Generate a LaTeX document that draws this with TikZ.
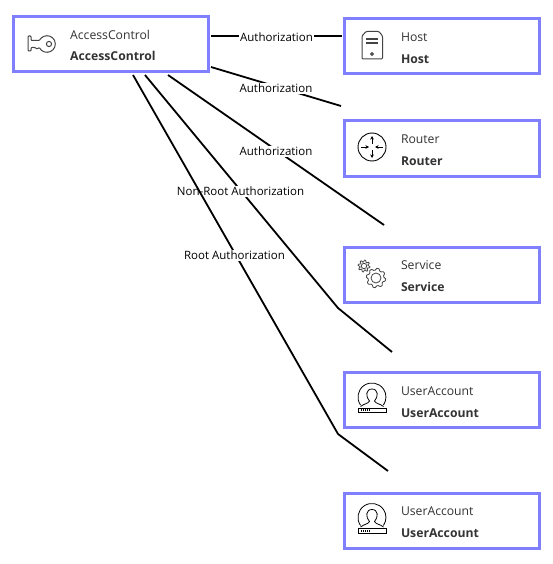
\documentclass[tikz,border=0pt]{standalone}
\usepackage{fontspec}
\setmainfont{Open Sans}
\usetikzlibrary{arrows.meta}
\definecolor{cardblue}{HTML}{8080FF}
\definecolor{cardtext}{HTML}{333333}
\definecolor{icongray}{HTML}{444444}
\tikzset{
  card/.style={draw=cardblue,line width=3pt,fill=white,minimum width=194.6pt,minimum height=55pt,inner sep=0pt},
  typetext/.style={anchor=west,text=cardtext,font=\fontsize{12.2}{14}\selectfont,inner sep=0pt},
  nametext/.style={anchor=west,text=cardtext,font=\fontsize{12.2}{14}\selectfont\bfseries,inner sep=0pt},
  relation/.style={draw=black,line width=1.8pt},
  edgelabel/.style={fill=white,text=black,font=\fontsize{11.5}{13}\selectfont,inner sep=1pt},
  useraccount/.pic={
    \draw[black,line width=.8pt] (-11.5,8) arc (145:395:14);
    \draw[black,line width=.8pt] (-11.5,9.5) .. controls (-8,6.5) and (-4,7) .. (-2.5,4) .. controls (-6.5,0) and (-6.5,-8) .. (0,-8) .. controls (6.5,-8) and (6.5,0) .. (2.5,4) .. controls (4,7) and (8,6.5) .. (11.5,9.5);
    \draw[black,fill=white,line width=.8pt] (-14,11) rectangle (14,15.5);
    \foreach \x in {-11,-9,-7,-5,-3}{\fill[black] (\x,12.4) rectangle (\x+1.2,14);}
  }
}
\newcommand{\gearicon}[4]{% centre x, centre y, radius, hole
  \draw[icongray,line width=.8pt] plot[variable=\t,domain=0:360,samples=65] ({#1+(#3+.9*sign(sin(8*\t)))*cos(\t)},{#2+(#3+.9*sign(sin(8*\t)))*sin(\t)})--cycle;
  \draw[icongray,line width=.8pt] (#1,#2) circle (#4);
}
\begin{document}
\begin{tikzpicture}[x=1pt,y=-1pt,>={Stealth[length=3.5pt,width=3.5pt]}]
\useasboundingbox (0,0) rectangle (552,564);
\node[card] (access) at (110.8,44.5) {};
\foreach \id/\lab/\y/\dy in {host/Host/46.5/1,router/Router/148.5/1,service/Service/274.5/1,userone/UserAccount/400/2,usertwo/UserAccount/520.5/1}{
  \node[card] (\id) at (441.8,\y) {};
  \node[typetext] at ([xshift=-41pt,yshift=10.5pt-\dy pt]\id.center) {\lab};
  \node[nametext] at ([xshift=-41pt,yshift=-11.5pt-\dy pt]\id.center) {\lab};
}
\node[typetext] at (70,34.5) {AccessControl};
\node[nametext] at (70,56) {AccessControl};
% connector ends
\coordinate (authone) at (211,36);
\coordinate (authtwo) at (211,67);
\coordinate (auththree) at (168,75);
\coordinate (nonroot) at (145,75);
\coordinate (root) at (133,75);
\coordinate (hostend) at (342,36);
\coordinate (routerend) at (341,106);
\coordinate (serviceend) at (384,225);
\coordinate (nonrootbend) at (338,308);
\coordinate (nonrootend) at (392,352);
\coordinate (rootbend) at (338,434);
\coordinate (rootend) at (388,471);
\draw[relation] (authone)--(hostend) node[midway,edgelabel,yshift=-1pt]{Authorization};
\draw[relation] (authtwo)--(routerend) node[midway,edgelabel,yshift=-2pt]{Authorization};
\draw[relation] (auththree)--(serviceend) node[midway,edgelabel,yshift=-1.5pt]{Authorization};
\draw[relation] (nonroot)--(nonrootbend) node[midway,edgelabel,xshift=-1pt]{Non-Root Authorization}--(nonrootend);
\draw[relation] (root)--(rootbend) node[midway,edgelabel,xshift=-1pt,yshift=-1pt]{Root Authorization}--(rootend);
% key
\draw[icongray,line width=1pt,rounded corners=.8pt] (31,36)--(28,36)--(28,51)--(31,51)--(31,47.5)--(35,47.5)--(37,49)--(39.5,47.5) arc (155:-155:8.3)--(31,40.5)--cycle;
\draw[icongray,line width=1pt] (49,44) circle (2.6);
% host
\draw[icongray,line width=1pt,rounded corners=1pt] (362,36)--(366,31.5)--(379,31.5)--(382.5,36)--(382.5,59)--(362,59)--cycle;
\draw[icongray,line width=1.2pt] (366,39)--(378,39) (366,43)--(378,43);
\draw[icongray,line width=1pt] (372,54) circle (1.4);
% router
\draw[black,line width=.9pt] (372,147) circle (14);
\draw[black,line width=.8pt,->] (372,144)--(372,136);
\draw[black,line width=.8pt,->] (372,150)--(372,158);
\draw[black,line width=.8pt,->] (361,147)--(369,147);
\draw[black,line width=.8pt,->] (383,147)--(375,147);
% service
\gearicon{364}{266}{5}{2.7}
\gearicon{376}{278}{8.8}{5}
% users
\pic at (372,397) {useraccount};
\pic at (372,517.5) {useraccount};
\end{tikzpicture}
\end{document}
